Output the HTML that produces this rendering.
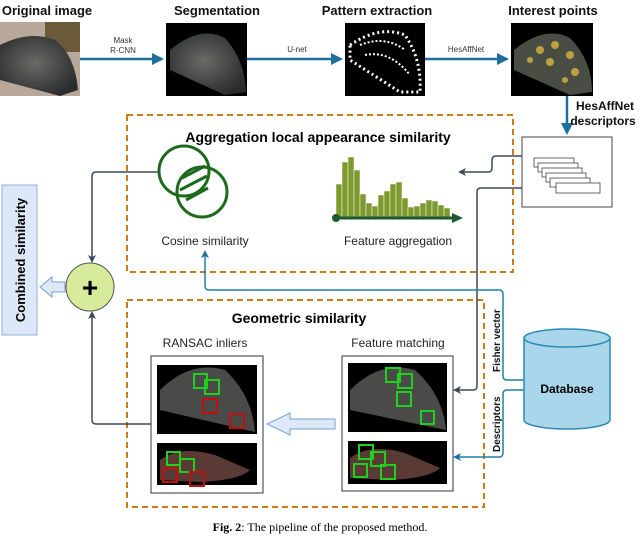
<!DOCTYPE html>
<html><head><meta charset="utf-8"><style>
body{margin:0;background:#fff;width:640px;height:539px;overflow:hidden}
text{font-family:"Liberation Sans",sans-serif}
</style></head><body>
<svg width="640" height="539" viewBox="0 0 640 539" xmlns="http://www.w3.org/2000/svg">
<defs>
<marker id="ab" markerWidth="8" markerHeight="8" refX="6" refY="4" orient="auto" markerUnits="userSpaceOnUse"><path d="M0,0 L8,4 L0,8 L2,4z" fill="#1f6f9e"/></marker>
<marker id="ad" markerWidth="8" markerHeight="8" refX="6" refY="4" orient="auto" markerUnits="userSpaceOnUse"><path d="M0,0 L8,4 L0,8 L2,4z" fill="#3b4a5a"/></marker>
<marker id="ab2" markerWidth="12" markerHeight="12" refX="10" refY="6" orient="auto" markerUnits="userSpaceOnUse"><path d="M0,0 L12,6 L0,12z" fill="#1f6f9e"/></marker>
<radialGradient id="seal" cx="45%" cy="45%" r="60%"><stop offset="0" stop-color="#6a6a66"/><stop offset="1" stop-color="#2a2c2e"/></radialGradient>
</defs>
<g font-weight="bold" font-size="13" text-anchor="middle" fill="#111">
<text x="47" y="15">Original image</text>
<text x="217" y="15">Segmentation</text>
<text x="377" y="15">Pattern extraction</text>
<text x="553" y="15">Interest points</text>
</g>
<rect x="0" y="22" width="80" height="74" fill="#b8a89a"/>
<rect x="45" y="22" width="35" height="30" fill="#6b5a3a"/>
<path d="M0,45 Q30,30 55,40 Q75,55 78,90 L60,96 L0,80z" fill="url(#seal)"/>
<rect x="166" y="23" width="81" height="73" fill="#000"/>
<path d="M170,50 Q200,25 225,38 Q245,60 246,92 L225,95 L170,70z" fill="url(#seal)"/>
<rect x="345" y="23" width="80" height="73" fill="#000"/>
<path d="M350,45 Q380,25 405,35 Q422,60 420,92 L400,92 L350,60z" fill="none" stroke="#fff" stroke-width="3" stroke-dasharray="2 3"/>
<path d="M360,45 Q385,35 405,50 M365,55 Q390,50 410,75" fill="none" stroke="#fff" stroke-width="2" stroke-dasharray="2 2"/>
<rect x="511" y="23" width="82" height="73" fill="#000"/>
<path d="M514,50 Q545,25 570,38 Q592,60 592,92 L570,95 L514,70z" fill="#4a4d44"/>
<g fill="#d8b640" opacity=".8"><circle cx="540" cy="50" r="4"/><circle cx="555" cy="45" r="4"/><circle cx="570" cy="55" r="4"/><circle cx="550" cy="62" r="4"/><circle cx="575" cy="72" r="4"/><circle cx="530" cy="60" r="3"/><circle cx="565" cy="80" r="3"/></g>
<g stroke="#1f6f9e" stroke-width="2.5" fill="none">
<line x1="80" y1="59" x2="162" y2="59" marker-end="url(#ab2)"/>
<line x1="247" y1="59" x2="341" y2="59" marker-end="url(#ab2)"/>
<line x1="425" y1="59" x2="507" y2="59" marker-end="url(#ab2)"/>
<line x1="567" y1="96" x2="567" y2="133" marker-end="url(#ab2)"/>
</g>
<g font-size="8" text-anchor="middle" fill="#333">
<text x="123" y="43">Mask</text><text x="123" y="53">R-CNN</text>
<text x="297" y="52">U-net</text>
<text x="466" y="52">HesAffNet</text>
</g>
<g font-weight="bold" font-size="12" text-anchor="middle" fill="#111">
<text x="605" y="110">HesAffNet</text><text x="603" y="125">descriptors</text>
</g>
<rect x="127" y="115" width="386" height="157" fill="none" stroke="#d07a12" stroke-width="2" stroke-dasharray="6 4"/>
<rect x="127" y="300" width="357" height="207" fill="none" stroke="#d07a12" stroke-width="2" stroke-dasharray="6 4"/>
<text x="318" y="142" font-size="14" font-weight="bold" text-anchor="middle">Aggregation local appearance similarity</text>
<text x="299" y="323" font-size="14" font-weight="bold" text-anchor="middle">Geometric similarity</text>
<rect x="522" y="137" width="90" height="70" fill="#fff" stroke="#444"/>
<g fill="#fff" stroke="#444" stroke-width=".8">
<rect x="534" y="158" width="40" height="9"/><rect x="538" y="163" width="40" height="9"/><rect x="542" y="168" width="40" height="9"/><rect x="546" y="173" width="40" height="9"/><rect x="550" y="178" width="40" height="9"/><rect x="556" y="183" width="44" height="10"/>
</g>
<g fill="none" stroke="#1d6a1d" stroke-width="3">
<circle cx="184" cy="171" r="25"/><circle cx="202" cy="192" r="25"/>
<path d="M182,178 L205,166 M180,190 L207,176 M186,200 L208,188"/>
</g>
<text x="205" y="245" font-size="12" text-anchor="middle" fill="#222">Cosine similarity</text>
<g fill="#7d9a2e" stroke="#fff" stroke-width=".5">
<rect x="336" y="184" width="6" height="33"/><rect x="342" y="162" width="6" height="55"/><rect x="348" y="157" width="6" height="60"/><rect x="354" y="170" width="6" height="47"/><rect x="360" y="194" width="6" height="23"/><rect x="366" y="203" width="6" height="14"/><rect x="372" y="206" width="6" height="11"/><rect x="378" y="195" width="6" height="22"/><rect x="384" y="191" width="6" height="26"/><rect x="390" y="184" width="6" height="33"/><rect x="396" y="182" width="6" height="35"/><rect x="402" y="198" width="6" height="19"/><rect x="408" y="207" width="6" height="10"/><rect x="414" y="206" width="6" height="11"/><rect x="420" y="203" width="6" height="14"/><rect x="426" y="200" width="6" height="17"/><rect x="432" y="201" width="6" height="16"/><rect x="438" y="205" width="6" height="12"/><rect x="444" y="208" width="6" height="9"/>
</g>
<line x1="336" y1="218" x2="455" y2="218" stroke="#1d5a30" stroke-width="3"/>
<path d="M452,213 L463,218 L452,223z" fill="#1d5a30"/><circle cx="336" cy="218" r="4" fill="#1d5a30"/>
<text x="398" y="245" font-size="12" text-anchor="middle" fill="#222">Feature aggregation</text>
<path d="M522,156 L496,156 Q492,156 492,160 L492,168 Q492,172 488,172 L460,172" fill="none" stroke="#3b4a5a" stroke-width="1.5" marker-end="url(#ad)"/>
<path d="M522,188 L481,188 Q477,188 477,192 L477,386 Q477,390 473,390 L455,390" fill="none" stroke="#3b4a5a" stroke-width="1.5" marker-end="url(#ad)"/>
<path d="M524,380 L507,380 Q503,380 503,376 L503,294 Q503,290 499,290 L209,290 Q205,290 205,286 L205,252" fill="none" stroke="#1f7fad" stroke-width="1.5" marker-end="url(#ab)"/>
<path d="M524,390 L507,390 Q503,390 503,394 L503,453 Q503,457 499,457 L455,457" fill="none" stroke="#1f7fad" stroke-width="1.5" marker-end="url(#ab)"/>
<path d="M160,172 L96,172 Q92,172 92,176 L92,261" fill="none" stroke="#3b4a5a" stroke-width="1.5" marker-end="url(#ad)"/>
<path d="M151,424 L96,424 Q92,424 92,420 L92,313" fill="none" stroke="#3b4a5a" stroke-width="1.5" marker-end="url(#ad)"/>
<g font-size="10" font-weight="bold" fill="#111">
<text transform="translate(500,372) rotate(-90)">Fisher vector</text>
<text transform="translate(500,452) rotate(-90)">Descriptors</text>
</g>
<path d="M524,338 L524,420 A43,9 0 0 0 610,420 L610,338" fill="#a9d6ea" stroke="#2a8ab8" stroke-width="1.5"/>
<ellipse cx="567" cy="338" rx="43" ry="9" fill="#a9d6ea" stroke="#2a8ab8" stroke-width="1.5"/>
<text x="567" y="393" font-size="12" font-weight="bold" text-anchor="middle">Database</text>
<circle cx="90" cy="287" r="24" fill="#d8eb9c" stroke="#555" stroke-width="1"/>
<text x="90" y="297" font-size="28" font-weight="bold" text-anchor="middle">+</text>
<path d="M65,282 L52,282 L52,277 L40,287 L52,297 L52,292 L65,292z" fill="#dde9f7" stroke="#7a9fd0"/>
<rect x="2" y="185" width="35" height="150" fill="#dce8f8" stroke="#8fb0dc"/>
<text transform="translate(25,260) rotate(-90)" font-size="13" font-weight="bold" text-anchor="middle">Combined similarity</text>
<text x="205" y="347" font-size="12" text-anchor="middle" fill="#222">RANSAC inliers</text>
<text x="398" y="347" font-size="12" text-anchor="middle" fill="#222">Feature matching</text>
<rect x="151" y="356" width="112" height="137" fill="#fff" stroke="#333"/>
<rect x="157" y="365" width="100" height="69" fill="#000"/>
<path d="M160,390 Q190,360 225,370 Q252,395 255,432 L160,410z" fill="#4a4b48"/>
<rect x="157" y="443" width="100" height="42" fill="#000"/>
<path d="M160,460 Q180,445 215,455 L250,470 Q240,480 200,482 L160,480z" fill="#5a3a34"/>
<rect x="342" y="356" width="111" height="135" fill="#fff" stroke="#333"/>
<rect x="348" y="363" width="99" height="69" fill="#000"/>
<path d="M350,390 Q380,360 415,370 Q443,395 446,430 L350,410z" fill="#4a4b48"/>
<rect x="348" y="441" width="99" height="43" fill="#000"/>
<path d="M350,458 Q370,443 405,453 L440,468 Q430,478 390,480 L350,478z" fill="#5a3a34"/>
<g fill="none" stroke="#1fd01f" stroke-width="2">
<rect x="194" y="374" width="13" height="14"/><rect x="205" y="380" width="14" height="14"/><rect x="167" y="452" width="13" height="13"/><rect x="180" y="459" width="14" height="13"/>
<rect x="386" y="368" width="14" height="14"/><rect x="398" y="374" width="14" height="14"/><rect x="397" y="392" width="14" height="14"/><rect x="421" y="411" width="13" height="13"/>
<rect x="359" y="445" width="14" height="14"/><rect x="371" y="452" width="14" height="14"/><rect x="354" y="464" width="13" height="13"/><rect x="381" y="465" width="14" height="14"/>
</g>
<g fill="none" stroke="#c01010" stroke-width="2">
<rect x="203" y="399" width="14" height="14"/><rect x="230" y="414" width="14" height="14"/><rect x="163" y="468" width="14" height="14"/><rect x="190" y="472" width="14" height="14"/>
</g>
<path d="M335,419 L290,419 L290,413 L267,424 L290,435 L290,429 L335,429z" fill="#dde9f7" stroke="#7a9fd0"/>
<text x="320" y="531" style="font-family:'Liberation Serif',serif" font-size="12" text-anchor="middle"><tspan font-weight="bold">Fig. 2</tspan>: The pipeline of the proposed method.</text>
</svg>
</body></html>
